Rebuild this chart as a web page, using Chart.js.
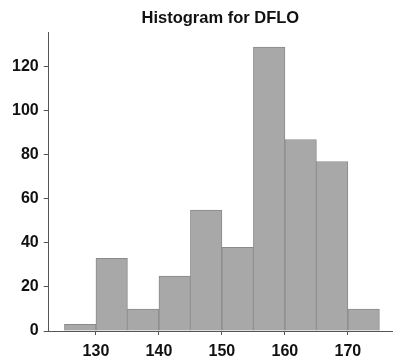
<!DOCTYPE html>
<html>
<head>
<meta charset="utf-8">
<title>Histogram for DFLO</title>
<script src="https://cdn.jsdelivr.net/npm/chart.js@4/dist/chart.umd.min.js"></script>
<style>
  html, body { margin: 0; padding: 0; background: #fff; }
  #wrap { width: 393px; height: 362px; position: relative; }
</style>
</head>
<body>
<div id="wrap"><canvas id="histChart"></canvas></div>
<script>
'use strict';

// Histogram bins (width 5) and counts
const binStarts = [125, 130, 135, 140, 145, 150, 155, 160, 165, 170];
const binWidth = 5;
const counts = [3, 33, 10, 25, 55, 38, 129, 87, 77, 10];

const xTicks = [130, 140, 150, 160, 170];
const yTicks = [0, 20, 40, 60, 80, 100, 120];

const FONT = "'Liberation Sans', Arial, sans-serif";

const points = binStarts.map((start, i) => ({ x: start + binWidth / 2, y: counts[i] }));

function keepTicks(values) {
  return scale => {
    scale.ticks = values.map(v => ({ value: v }));
  };
}

const ctx = document.getElementById('histChart').getContext('2d');
new Chart(ctx, {
  type: 'bar',
  data: {
    datasets: [{
      label: 'DFLO',
      data: points,
      backgroundColor: '#a8a8a8',
      borderColor: '#8a8a8a',
      borderWidth: 1,
      barPercentage: 1,
      categoryPercentage: 1
    }]
  },
  options: {
    responsive: true,
    maintainAspectRatio: false,
    animation: false,
    layout: {
      padding: { left: 7, right: 1, top: 0, bottom: -7 }
    },
    plugins: {
      legend: { display: false },
      tooltip: { enabled: false },
      title: {
        display: true,
        text: 'Histogram for DFLO',
        fullSize: false,
        color: '#111',
        font: { family: FONT, size: 16.5, weight: 'bold' },
        padding: { top: 9, bottom: 4 }
      }
    },
    scales: {
      x: {
        type: 'linear',
        offset: false,
        min: 122.5,
        max: 177,
        afterBuildTicks: keepTicks(xTicks),
        grid: { offset: false, drawOnChartArea: false, drawTicks: true, tickLength: 4, color: '#555' },
        border: { color: '#555', width: 1 },
        ticks: {
          color: '#111',
          padding: 9,
          font: { family: FONT, size: 16, weight: 'bold', lineHeight: 1 }
        }
      },
      y: {
        min: 0,
        max: 135.5,
        afterBuildTicks: keepTicks(yTicks),
        grid: { drawOnChartArea: false, drawTicks: true, tickLength: 5, color: '#555' },
        border: { color: '#555', width: 1 },
        ticks: {
          color: '#111',
          padding: 5,
          font: { family: FONT, size: 16, weight: 'bold' }
        }
      }
    }
  }
});
</script>
</body>
</html>
